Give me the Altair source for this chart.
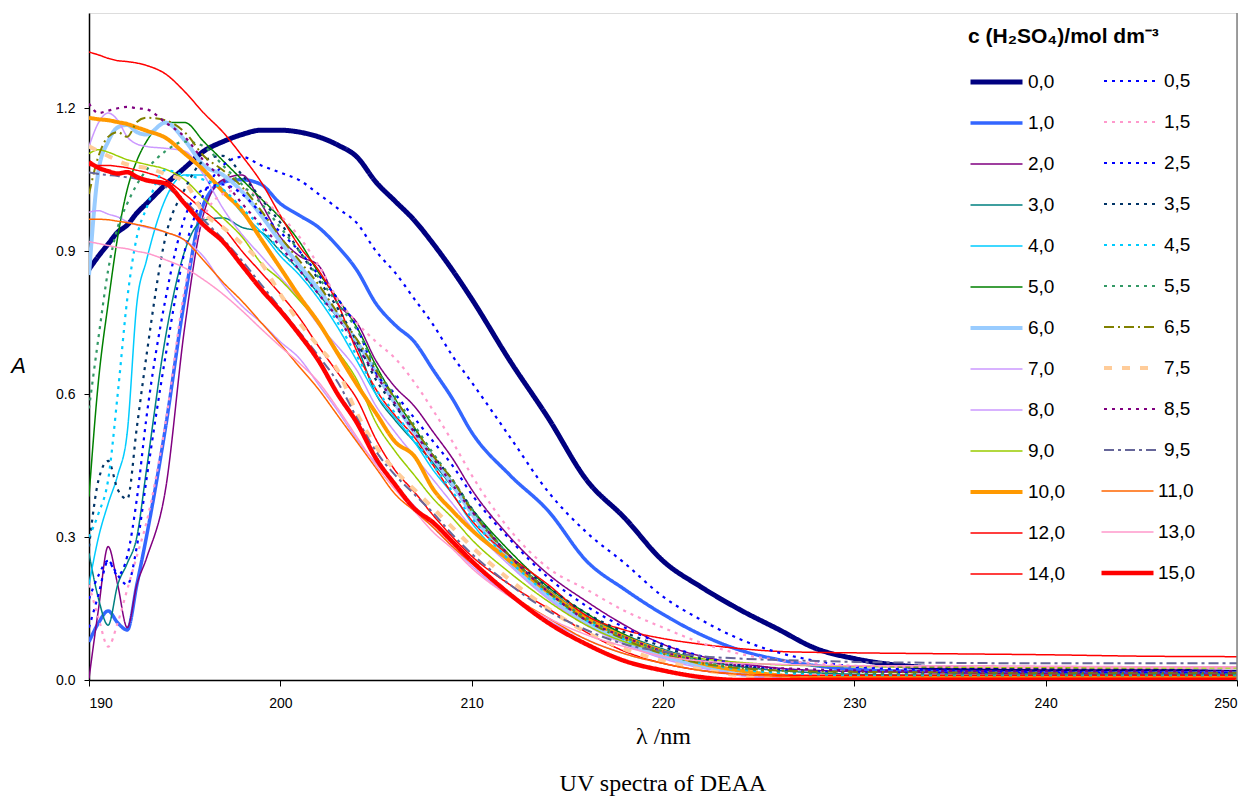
import altair as alt
import pandas as pd

# wavelength grid (nm)
WL = [190, 190.5, 191, 191.5, 192, 192.5, 193, 194, 195, 196, 197, 198, 199, 200,
      201, 202, 203, 204, 205, 206, 207, 208, 209, 210, 212, 214, 216, 218, 220,
      222, 224, 226, 228, 230, 235, 240, 245, 250]

A_00 = [0.862, 0.89, 0.915, 0.94, 0.955, 0.98, 1.0, 1.04, 1.075, 1.11, 1.13, 1.145, 1.154, 1.154,
        1.15, 1.14, 1.123, 1.098, 1.045, 1.005, 0.965, 0.915, 0.86, 0.8, 0.67, 0.55, 0.42, 0.34, 0.25,
        0.195, 0.148, 0.107, 0.066, 0.045, 0.024, 0.02, 0.019, 0.016]
A_05 = [0.11, 0.18, 0.25, 0.22, 0.2, 0.28, 0.42, 0.68, 0.9, 1.02, 1.08, 1.098, 1.08, 1.065,
        1.049, 1.02, 0.99, 0.959, 0.9, 0.855, 0.8, 0.745, 0.68, 0.625, 0.51, 0.395, 0.31, 0.245, 0.175,
        0.126, 0.086, 0.058, 0.04, 0.028, 0.02, 0.017, 0.016, 0.015]
A_10 = [0.08, 0.12, 0.145, 0.12, 0.105, 0.2, 0.3, 0.53, 0.8, 1.0, 1.045, 1.05, 1.04, 1.0,
        0.975, 0.95, 0.91, 0.86, 0.79, 0.745, 0.71, 0.65, 0.59, 0.52, 0.43, 0.355, 0.25, 0.19, 0.138,
        0.095, 0.063, 0.043, 0.03, 0.022, 0.017, 0.015, 0.015, 0.015]
A_15 = [0.2, 0.13, 0.07, 0.12, 0.19, 0.26, 0.33, 0.54, 0.82, 0.97, 1.02, 1.03, 1.01, 0.975,
        0.93, 0.87, 0.8, 0.75, 0.71, 0.675, 0.625, 0.565, 0.5, 0.43, 0.315, 0.235, 0.19, 0.145, 0.11,
        0.078, 0.055, 0.042, 0.035, 0.03, 0.027, 0.025, 0.025, 0.025]
A_20 = [0.003, 0.15, 0.28, 0.2, 0.11, 0.2, 0.255, 0.4, 0.74, 0.98, 1.05, 1.06, 1.0, 0.93,
        0.89, 0.87, 0.79, 0.75, 0.67, 0.615, 0.575, 0.52, 0.465, 0.4, 0.3, 0.222, 0.165, 0.115, 0.075,
        0.05, 0.035, 0.025, 0.02, 0.018, 0.015, 0.013, 0.012, 0.012]
A_25 = [0.17, 0.22, 0.25, 0.22, 0.26, 0.38, 0.55, 0.8, 0.97, 1.03, 1.04, 1.02, 0.98, 0.94,
        0.9, 0.85, 0.8, 0.74, 0.645, 0.6, 0.55, 0.5, 0.45, 0.39, 0.295, 0.215, 0.155, 0.11, 0.075,
        0.05, 0.032, 0.022, 0.018, 0.016, 0.015, 0.015, 0.015, 0.015]
A_30 = [0.266, 0.17, 0.115, 0.2, 0.245, 0.3, 0.44, 0.72, 0.9, 0.965, 0.97, 0.95, 0.94, 0.9,
        0.86, 0.81, 0.76, 0.7, 0.6, 0.545, 0.5, 0.455, 0.405, 0.355, 0.26, 0.19, 0.135, 0.095, 0.065,
        0.042, 0.028, 0.02, 0.015, 0.012, 0.01, 0.01, 0.01, 0.01]
A_35 = [0.28, 0.42, 0.46, 0.4, 0.38, 0.53, 0.68, 0.93, 1.03, 1.09, 1.1, 1.06, 1.01, 0.96,
        0.9, 0.84, 0.78, 0.71, 0.63, 0.575, 0.525, 0.47, 0.42, 0.36, 0.26, 0.195, 0.14, 0.1, 0.07,
        0.045, 0.03, 0.02, 0.015, 0.012, 0.01, 0.01, 0.01, 0.01]
A_40 = [0.2, 0.3, 0.37, 0.43, 0.52, 0.79, 0.88, 1.01, 1.06, 1.06, 1.03, 0.98, 0.94, 0.89,
        0.85, 0.8, 0.74, 0.67, 0.6, 0.55, 0.5, 0.44, 0.39, 0.33, 0.245, 0.175, 0.12, 0.085, 0.055,
        0.035, 0.02, 0.012, 0.008, 0.006, 0.005, 0.005, 0.005, 0.005]
A_45 = [0.3, 0.35, 0.42, 0.6, 0.8, 0.93, 0.99, 1.07, 1.06, 1.05, 1.03, 0.99, 0.95, 0.9,
        0.86, 0.81, 0.75, 0.68, 0.61, 0.56, 0.505, 0.45, 0.395, 0.34, 0.25, 0.18, 0.125, 0.085, 0.055,
        0.035, 0.022, 0.015, 0.012, 0.01, 0.01, 0.01, 0.01, 0.01]
A_50 = [0.385, 0.63, 0.79, 0.93, 1.03, 1.09, 1.13, 1.17, 1.17, 1.13, 1.09, 1.05, 1.01, 0.97,
        0.92, 0.855, 0.8, 0.74, 0.66, 0.59, 0.53, 0.47, 0.415, 0.36, 0.27, 0.195, 0.14, 0.095, 0.06,
        0.035, 0.02, 0.01, 0.006, 0.004, 0.003, 0.003, 0.003, 0.003]
A_55 = [0.57, 0.72, 0.86, 0.95, 1.0, 1.04, 1.07, 1.11, 1.13, 1.12, 1.08, 1.04, 1.0, 0.95,
        0.9, 0.845, 0.79, 0.735, 0.655, 0.595, 0.535, 0.475, 0.42, 0.36, 0.26, 0.185, 0.13, 0.09, 0.06,
        0.038, 0.025, 0.018, 0.015, 0.013, 0.012, 0.012, 0.012, 0.012]
A_60 = [0.85, 1.07, 1.13, 1.16, 1.165, 1.15, 1.145, 1.17, 1.133, 1.08, 1.06, 1.025, 0.975, 0.92,
        0.87, 0.82, 0.765, 0.71, 0.645, 0.58, 0.52, 0.465, 0.41, 0.35, 0.25, 0.175, 0.12, 0.08, 0.05,
        0.03, 0.012, 0.005, 0.002, 0.0, 0.0, 0.0, 0.0, 0.0]
A_65 = [1.02, 1.1, 1.14, 1.15, 1.14, 1.171, 1.18, 1.175, 1.15, 1.1, 1.07, 1.035, 0.985, 0.93,
        0.88, 0.83, 0.77, 0.715, 0.65, 0.59, 0.53, 0.47, 0.42, 0.355, 0.26, 0.185, 0.125, 0.085, 0.055,
        0.035, 0.025, 0.02, 0.018, 0.017, 0.016, 0.015, 0.015, 0.015]
A_70 = [1.12, 1.17, 1.19, 1.175, 1.14, 1.125, 1.12, 1.116, 1.11, 1.06, 0.99, 0.935, 0.89, 0.845,
        0.8, 0.745, 0.7, 0.65, 0.575, 0.52, 0.47, 0.42, 0.37, 0.32, 0.24, 0.17, 0.115, 0.075, 0.045,
        0.025, 0.012, 0.006, 0.004, 0.004, 0.004, 0.004, 0.004, 0.004]
A_75 = [1.12, 1.11, 1.1, 1.09, 1.082, 1.078, 1.075, 1.062, 1.045, 0.98, 0.95, 0.915, 0.875, 0.81,
        0.75, 0.7, 0.65, 0.56, 0.49, 0.44, 0.4, 0.36, 0.32, 0.28, 0.21, 0.15, 0.1, 0.065, 0.04,
        0.022, 0.01, 0.005, 0.003, 0.002, 0.002, 0.002, 0.002, 0.002]
A_80 = [0.982, 0.985, 0.978, 0.972, 0.962, 0.955, 0.95, 0.94, 0.923, 0.888, 0.83, 0.785, 0.75, 0.71,
        0.675, 0.62, 0.565, 0.505, 0.455, 0.41, 0.365, 0.32, 0.28, 0.24, 0.175, 0.125, 0.085, 0.055, 0.035,
        0.02, 0.01, 0.005, 0.003, 0.003, 0.003, 0.003, 0.003, 0.003]
A_85 = [1.21, 1.19, 1.195, 1.2, 1.203, 1.2, 1.198, 1.17, 1.14, 1.09, 1.05, 1.0, 0.955, 0.91,
        0.86, 0.81, 0.76, 0.7, 0.64, 0.58, 0.52, 0.465, 0.41, 0.355, 0.26, 0.185, 0.125, 0.09, 0.06,
        0.04, 0.03, 0.025, 0.022, 0.02, 0.019, 0.018, 0.018, 0.018]
A_90 = [1.105, 1.113, 1.108, 1.1, 1.092, 1.087, 1.082, 1.072, 1.05, 1.01, 0.97, 0.93, 0.875, 0.84,
        0.797, 0.75, 0.69, 0.63, 0.54, 0.48, 0.43, 0.38, 0.34, 0.295, 0.225, 0.165, 0.115, 0.08, 0.06,
        0.045, 0.037, 0.032, 0.03, 0.028, 0.027, 0.026, 0.025, 0.025]
A_95 = [1.065, 1.062, 1.06, 1.058, 1.055, 1.052, 1.048, 1.035, 1.005, 0.965, 0.925, 0.88, 0.83, 0.78,
        0.73, 0.68, 0.625, 0.55, 0.48, 0.43, 0.39, 0.35, 0.305, 0.265, 0.2, 0.145, 0.105, 0.075, 0.06,
        0.05, 0.045, 0.042, 0.04, 0.038, 0.036, 0.035, 0.035, 0.035]
A_100 = [1.18, 1.177, 1.175, 1.171, 1.167, 1.16, 1.153, 1.138, 1.105, 1.07, 1.025, 0.985, 0.925, 0.865,
         0.805, 0.75, 0.685, 0.62, 0.56, 0.5, 0.47, 0.4, 0.355, 0.315, 0.25, 0.185, 0.13, 0.09, 0.06,
         0.035, 0.02, 0.01, 0.006, 0.006, 0.006, 0.006, 0.006, 0.006]
A_110 = [0.967, 0.967, 0.966, 0.963, 0.96, 0.956, 0.952, 0.94, 0.923, 0.88, 0.835, 0.795, 0.75, 0.705,
         0.657, 0.61, 0.555, 0.5, 0.445, 0.39, 0.355, 0.32, 0.28, 0.245, 0.18, 0.13, 0.085, 0.055, 0.035,
         0.02, 0.012, 0.008, 0.006, 0.006, 0.005, 0.005, 0.005, 0.005]
A_120 = [1.08, 1.08, 1.08, 1.078, 1.075, 1.07, 1.065, 1.05, 1.02, 0.985, 0.95, 0.9, 0.855, 0.81,
         0.76, 0.7, 0.645, 0.59, 0.505, 0.44, 0.395, 0.345, 0.3, 0.26, 0.2, 0.15, 0.1, 0.06, 0.035,
         0.02, 0.012, 0.01, 0.01, 0.01, 0.01, 0.01, 0.01, 0.01]
A_130 = [0.92, 0.916, 0.912, 0.908, 0.905, 0.9, 0.896, 0.882, 0.865, 0.84, 0.81, 0.775, 0.737, 0.7,
         0.665, 0.625, 0.57, 0.51, 0.45, 0.4, 0.355, 0.31, 0.275, 0.235, 0.175, 0.13, 0.095, 0.07, 0.05,
         0.04, 0.035, 0.033, 0.031, 0.03, 0.03, 0.029, 0.028, 0.028]
A_140 = [1.318, 1.312, 1.305, 1.3, 1.298, 1.295, 1.29, 1.272, 1.235, 1.19, 1.15, 1.1, 1.045, 0.975,
         0.91, 0.86, 0.79, 0.69, 0.61, 0.555, 0.51, 0.45, 0.39, 0.335, 0.26, 0.2, 0.135, 0.105, 0.087,
         0.075, 0.066, 0.06, 0.058, 0.057, 0.055, 0.053, 0.05, 0.049]
A_150 = [1.087, 1.075, 1.068, 1.063, 1.066, 1.056, 1.049, 1.042, 1.0, 0.955, 0.92, 0.87, 0.82, 0.775,
         0.725, 0.67, 0.6, 0.54, 0.465, 0.41, 0.36, 0.33, 0.29, 0.25, 0.18, 0.12, 0.075, 0.04, 0.02,
         0.006, 0.0, 0.0, 0.0, 0.0, 0.0, 0.0, 0.0, 0.0]

LABELS = ["0,0", "0,5", "1,0", "1,5", "2,0", "2,5", "3,0", "3,5", "4,0", "4,5",
          "5,0", "5,5", "6,0", "6,5", "7,0", "7,5", "8,0", "8,5", "9,0", "9,5",
          "10,0", "11,0", "12,0", "13,0", "14,0", "15,0"]
SERIES = [A_00, A_05, A_10, A_15, A_20, A_25, A_30, A_35, A_40, A_45,
          A_50, A_55, A_60, A_65, A_70, A_75, A_80, A_85, A_90, A_95,
          A_100, A_110, A_120, A_130, A_140, A_150]

COLORS = ["#000080", "#0000FF", "#3366FF", "#FF99CC", "#800080", "#0000FF", "#008080", "#003366",
          "#00CCFF", "#00CCFF", "#008000", "#339966", "#99CCFF", "#808000", "#CC99FF", "#FFCC99",
          "#CC99FF", "#800080", "#99CC00", "#666699", "#FF9900", "#FF6600", "#FF0000", "#FF99CC",
          "#FF0000", "#FF0000"]
DOT = [3, 5]
SOLID = [1, 0]
DASHES = [SOLID, DOT, SOLID, DOT, SOLID, DOT, SOLID, DOT, SOLID, DOT,
          SOLID, DOT, SOLID, [10, 4, 2, 4], SOLID, [8, 10], SOLID, DOT, SOLID, [10, 4, 3, 4],
          SOLID, SOLID, SOLID, SOLID, SOLID, SOLID]
WIDTHS = [5, 2.2, 3.5, 2.2, 1.5, 2.2, 1.5, 2.2, 1.5, 2.2,
          1.5, 2.2, 4, 2, 1.5, 4, 1.5, 2.2, 1.5, 2,
          4, 1.5, 1.5, 1.5, 1.5, 4.5]

# legend blocks: left column, right column (dashed .5 rows), right column (solid rows)
LEFT_COL = [i for i in range(20) if i % 2 == 0] + [20, 22, 24]
RIGHT_DASHED = [i for i in range(20) if i % 2 == 1]
RIGHT_SOLID = [21, 23, 25]

X_AXIS = alt.Axis(values=[190, 200, 210, 220, 230, 240, 250], format="d",
                  title="λ /nm", titleFont="Liberation Serif", titleFontSize=24,
                  titleFontWeight="normal", titleColor="black", titlePadding=14,
                  labelFont="Liberation Sans Narrow, Liberation Sans", labelFontSize=14,
                  labelColor="black", labelPadding=10, tickSize=6, tickColor="black",
                  domainColor="black", domainWidth=1.5, grid=False)
Y_AXIS = alt.Axis(values=[0, 0.3, 0.6, 0.9, 1.2], format=".1f", title="A",
                  titleAngle=0, titleFontStyle="italic", titleFont="Liberation Sans",
                  titleFontSize=22, titleFontWeight="normal", titleColor="black",
                  titleX=-71, titleY=352, titleAlign="center", titleBaseline="middle",
                  labelFont="Liberation Sans Narrow, Liberation Sans", labelFontSize=14,
                  labelColor="black", labelPadding=9, tickSize=5, tickColor="black",
                  domainColor="black", domainWidth=1.5, grid=False)


def column_layer(indices, legend):
    rows = []
    for i in indices:
        for w, a in zip(WL, SERIES[i]):
            rows.append({"wl": w, "A": a, "c": LABELS[i]})
    d = pd.DataFrame(rows)
    dom = [LABELS[i] for i in indices]
    return alt.Chart(d).mark_line(interpolate="monotone", clip=True, strokeCap="butt").encode(
        x=alt.X("wl:Q", scale=alt.Scale(domain=[190, 250], nice=False, zero=False), axis=X_AXIS),
        y=alt.Y("A:Q", scale=alt.Scale(domain=[0, 1.4], nice=False), axis=Y_AXIS),
        color=alt.Color("c:N", scale=alt.Scale(domain=dom, range=[COLORS[i] for i in indices]),
                        legend=legend),
        strokeDash=alt.StrokeDash("c:N", scale=alt.Scale(domain=dom, range=[DASHES[i] for i in indices]),
                                  legend=legend),
        strokeWidth=alt.StrokeWidth("c:N", scale=alt.Scale(type="ordinal", domain=dom,
                                                           range=[WIDTHS[i] for i in indices]),
                                    legend=legend),
        order=alt.Order("wl:Q"),
    )


common = dict(orient="none", symbolType="stroke", symbolSize=2704, clipHeight=22,
              rowPadding=19, labelFontSize=19, labelFont="Liberation Sans",
              labelColor="black", padding=0, symbolOpacity=1)

legend_left = alt.Legend(
    title="c (H₂SO₄)/mol dm⁻³", legendX=879, legendY=13, labelOffset=3,
    titleFont="Liberation Sans", titleFontSize=21, titleFontWeight="bold",
    titleColor="black", titleLimit=400, titleAnchor="start", titlePadding=24, **common)
legend_right_a = alt.Legend(title=None, legendX=1003, legendY=57, labelOffset=6,
                            symbolOffset=10, **common)
legend_right_b = alt.Legend(title=None, legendX=1010, legendY=467, labelOffset=2, **common)

layer_left = column_layer(LEFT_COL, legend_left)
layer_right_a = column_layer(RIGHT_DASHED, legend_right_a)
layer_right_b = column_layer(RIGHT_SOLID, legend_right_b)

edge_df = pd.DataFrame({"wl": [250]})
# grey right border of the plot area, at the end of the wavelength range
right_edge = alt.Chart(edge_df).mark_rule(color="#808080", strokeWidth=1.5).encode(
    x="wl:Q", y=alt.datum(0), y2=alt.datum(1.4)
)

chart = alt.layer(layer_left, layer_right_a, layer_right_b, right_edge).resolve_scale(
    color="independent", strokeDash="independent", strokeWidth="independent"
).resolve_legend(
    color="independent", strokeDash="independent", strokeWidth="independent"
).properties(
    width=1148, height=667,
    autosize=alt.AutoSizeParams(type="none"),
    padding={"left": 81, "top": 5, "right": 9, "bottom": 120},
    title=alt.Title("UV spectra of DEAA", orient="bottom", anchor="middle",
                    font="Liberation Serif", fontSize=24, fontWeight="normal",
                    color="black", offset=24),
).configure_view(stroke=None).configure(background="white")

chart.save("out.html", embed_options={"renderer": "svg", "actions": False})
